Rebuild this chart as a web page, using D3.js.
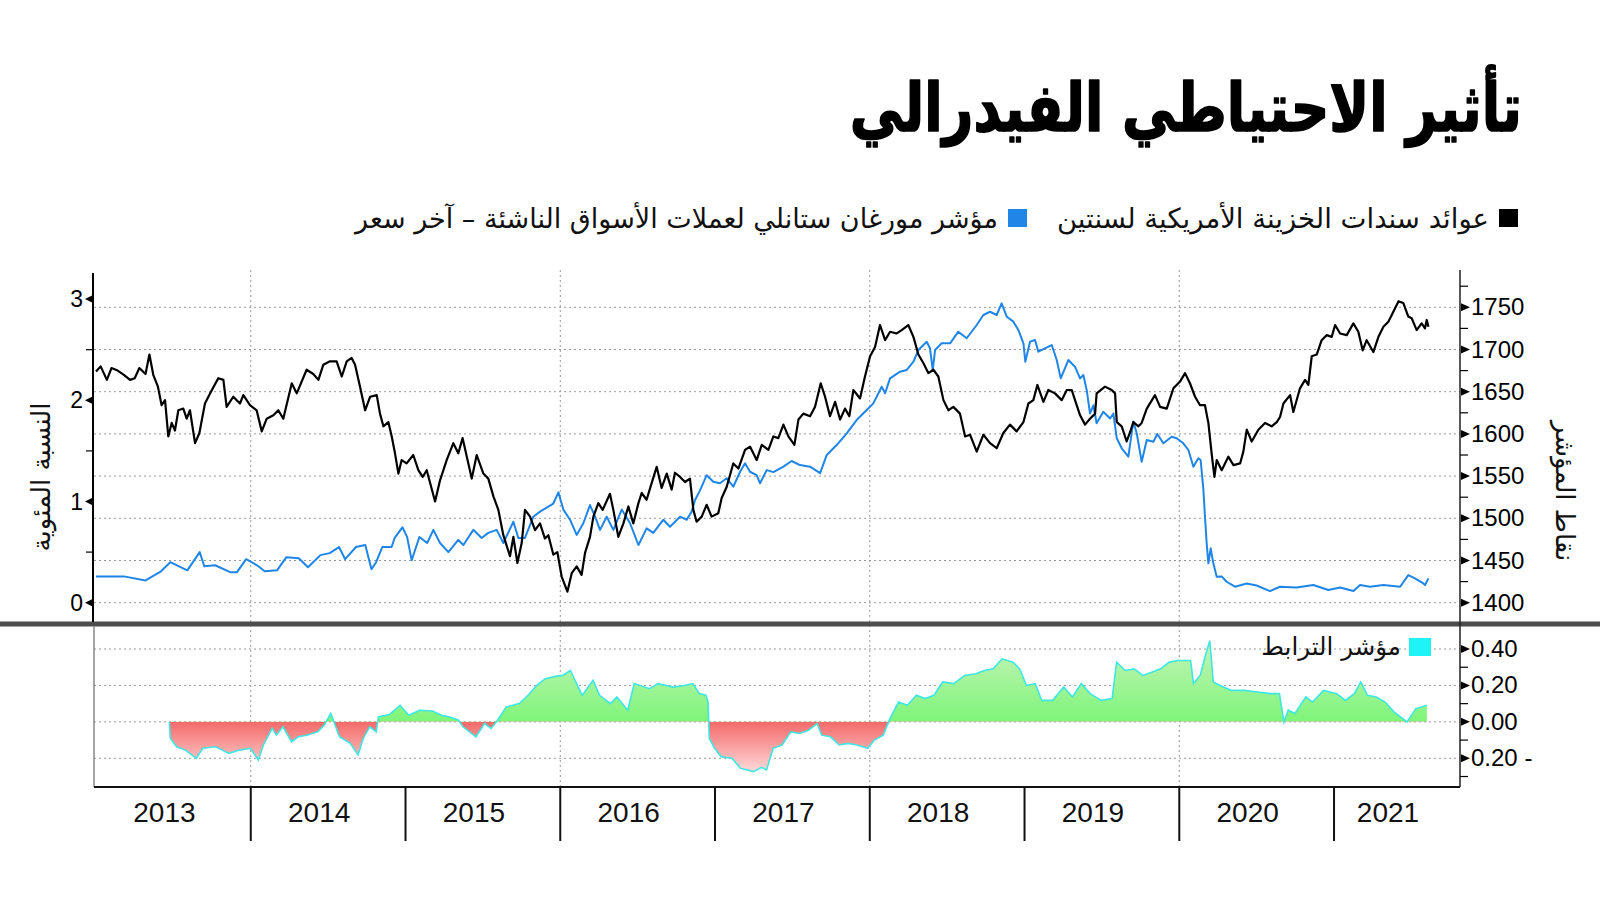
<!DOCTYPE html>
<html><head><meta charset="utf-8">
<script src="https://cdn.jsdelivr.net/npm/d3@7"></script>
<style>body{margin:0;background:#fff}svg{display:block}</style>
</head><body><svg id="c" width="1600" height="900"></svg>
<script>
// ---------- texts ----------
const titleText = "تأثير الاحتياطي الفيدرالي";
const legendLabels = ["عوائد سندات الخزينة الأمريكية لسنتين", "مؤشر مورغان ستانلي لعملات الأسواق الناشئة – آخر سعر"];
const corrLabel = "مؤشر الترابط";
const leftAxisTitle = "النسبة المئوية";
const rightAxisTitle = "نقاط المؤشر";

// ---------- ticks ----------
const years = [2013, 2014, 2015, 2016, 2017, 2018, 2019, 2020, 2021];
const gridYears = [2014, 2016, 2018, 2020];
const leftTicks = [0, 1, 2, 3];
const leftMinor = [0.5, 1.5, 2.5];
const rightTicks = [1400, 1450, 1500, 1550, 1600, 1650, 1700, 1750];
const rightMinor = [1425, 1475, 1525, 1575, 1625, 1675, 1725, 1775];
const corrTicks = [0.4, 0.2, 0, -0.2];
const corrTickLabels = ["0.40", "0.20", "0.00", "0.20 -"];
const corrMinor = [0.3, 0.1, -0.1, -0.3];

// ---------- series: EM currency index (black, right axis) ----------
const indexYears = [2013.00,2013.03,2013.07,2013.10,2013.14,2013.18,2013.22,2013.25,2013.28,2013.32,2013.345,2013.37,2013.40,2013.424,2013.446,2013.467,2013.489,2013.51,2013.532,2013.564,2013.586,2013.607,2013.64,2013.668,2013.704,2013.737,2013.79,2013.823,2013.844,2013.887,2013.93,2013.952,2013.995,2014.038,2014.071,2014.103,2014.146,2014.178,2014.21,2014.265,2014.297,2014.361,2014.404,2014.437,2014.469,2014.512,2014.555,2014.588,2014.62,2014.652,2014.674,2014.706,2014.739,2014.771,2014.814,2014.835,2014.857,2014.889,2014.911,2014.932,2014.954,2014.975,2015.007,2015.05,2015.083,2015.111,2015.137,
2015.191,2015.223,2015.266,2015.309,2015.341,2015.369,2015.406,2015.428,2015.46,2015.503,2015.535,2015.568,2015.60,2015.632,2015.675,2015.697,2015.723,2015.751,2015.772,2015.805,2015.837,2015.869,2015.901,2015.923,2015.955,2015.981,2016.009,2016.046,2016.074,2016.106,2016.138,2016.16,2016.192,2016.214,2016.246,2016.274,2016.321,2016.343,2016.375,2016.408,2016.44,2016.472,2016.505,2016.526,2016.558,2016.591,2016.623,2016.655,2016.688,2016.72,2016.741,2016.774,2016.806,2016.838,2016.86,2016.881,2016.914,2016.946,2016.978,2017.021,2017.043,2017.075,2017.118,2017.151,2017.194,2017.226,
2017.269,2017.302,2017.345,2017.377,2017.409,2017.442,2017.474,2017.513,2017.539,2017.571,2017.614,2017.646,2017.683,2017.711,2017.743,2017.776,2017.808,2017.84,2017.868,2017.894,2017.937,2017.969,2018.002,2018.034,2018.066,2018.099,2018.131,2018.174,2018.206,2018.249,2018.282,2018.314,2018.346,2018.379,2018.411,2018.443,2018.476,2018.508,2018.54,2018.583,2018.616,2018.648,2018.691,2018.734,2018.777,2018.82,2018.863,2018.906,2018.949,2018.993,2019.025,2019.057,2019.083,2019.122,2019.154,2019.197,2019.24,2019.273,2019.305,2019.337,
2019.359,2019.391,2019.423,2019.456,2019.466,2019.52,2019.563,2019.585,2019.596,2019.628,2019.66,2019.682,2019.703,2019.736,2019.757,2019.79,2019.843,2019.876,2019.919,2019.962,2020.005,2020.037,2020.069,2020.102,2020.134,2020.166,2020.188,2020.209,2020.227,2020.242,2020.274,2020.317,2020.35,2020.393,2020.414,2020.436,2020.468,2020.511,2020.554,2020.597,2020.63,2020.651,2020.673,2020.716,2020.737,2020.78,2020.813,2020.834,2020.856,2020.888,2020.92,2020.953,2020.985,2021.007,2021.039,2021.082,2021.125,2021.157,2021.185,2021.211,2021.254,2021.287,2021.319,2021.351,2021.373,2021.416,2021.448,2021.48,2021.502,2021.534,2021.566,2021.588,2021.599,2021.61];
const indexValues = [1674,1680,1664,1678,1675,1670,1664,1666,1678,1671,1694,1670,1656,1634,1640,1597,1613,1604,1628,1630,1618,1628,1589,1601,1636,1648,1666,1664,1632,1644,1636,1646,1634,1628,1603,1618,1622,1628,1618,1660,1648,1676,1671,1664,1682,1686,1686,1668,1686,1690,1682,1656,1628,1644,1646,1624,1609,1614,1597,1577,1553,1569,1565,1575,1557,1549,1557,
1520,1545,1569,1589,1577,1595,1565,1547,1575,1553,1547,1526,1510,1480,1455,1478,1447,1471,1510,1502,1486,1494,1476,1480,1457,1460,1431,1413,1435,1443,1433,1459,1478,1502,1518,1510,1529,1510,1478,1494,1514,1494,1518,1530,1522,1542,1561,1536,1553,1534,1554,1549,1543,1547,1510,1496,1502,1516,1502,1506,1524,1537,1565,1559,1581,1585,
1569,1587,1581,1597,1595,1611,1597,1587,1617,1624,1621,1632,1660,1644,1621,1638,1617,1630,1621,1652,1642,1668,1692,1703,1729,1711,1721,1719,1723,1729,1715,1694,1684,1672,1676,1668,1640,1628,1632,1624,1597,1599,1579,1599,1589,1583,1601,1611,1603,1614,1636,1640,1658,1638,1652,1648,1640,1652,1652,1634,
1622,1611,1618,1624,1648,1656,1652,1648,1614,1609,1591,1602,1614,1609,1613,1630,1646,1632,1630,1654,1662,1672,1660,1644,1634,1634,1613,1577,1549,1569,1557,1573,1563,1565,1579,1605,1591,1605,1613,1609,1614,1620,1636,1646,1626,1654,1664,1658,1692,1694,1711,1717,1715,1729,1719,1717,1731,1721,1699,1711,1697,1715,1727,1733,1741,1757,1755,1739,1737,1723,1731,1725,1735,1727];

// ---------- series: 2-year yield (blue, left axis, %) ----------
const yieldYears = [2013.00,2013.18,2013.32,2013.42,2013.48,2013.59,2013.67,2013.70,2013.77,2013.87,2013.91,2013.97,2014.04,2014.09,2014.17,2014.23,2014.31,2014.37,2014.45,2014.51,2014.57,2014.61,2014.68,2014.74,2014.78,2014.81,2014.85,2014.91,2014.93,2014.98,2015.01,2015.04,2015.09,2015.14,
2015.18,2015.223,2015.277,2015.341,2015.374,2015.438,2015.492,2015.535,2015.589,2015.632,2015.697,2015.729,2015.772,2015.826,2015.869,2015.923,2015.955,2015.988,2016.02,2016.063,2016.106,2016.149,2016.192,2016.225,2016.257,2016.30,2016.343,2016.397,2016.451,2016.505,2016.558,2016.601,2016.666,2016.709,2016.774,2016.817,2016.849,2016.871,2016.903,2016.946,2016.989,2017.032,2017.075,2017.118,2017.162,2017.194,2017.226,2017.269,
2017.291,2017.334,2017.377,2017.442,2017.495,2017.549,2017.614,2017.679,2017.722,2017.786,2017.851,2017.915,2017.98,2018.023,2018.077,2018.099,2018.131,2018.196,2018.239,2018.282,2018.314,2018.368,2018.389,2018.407,2018.422,2018.465,2018.519,2018.572,2018.626,2018.691,2018.734,2018.777,2018.82,2018.852,2018.885,2018.928,2018.96,2018.993,2019.005,2019.036,2019.068,2019.089,2019.132,2019.176,2019.208,2019.234,2019.283,2019.326,
2019.359,2019.38,2019.402,2019.423,2019.445,2019.466,2019.509,2019.553,2019.574,2019.596,2019.628,2019.671,2019.703,2019.725,2019.757,2019.79,2019.833,2019.858,2019.897,2019.951,2019.983,2020.026,2020.059,2020.091,2020.123,2020.138,2020.156,2020.166,2020.177,2020.188,2020.203,2020.22,2020.242,2020.274,2020.306,2020.36,2020.436,2020.50,2020.586,2020.651,2020.759,2020.866,2020.963,2021.039,2021.125,2021.168,2021.233,2021.319,2021.427,2021.48,2021.523,2021.577,2021.588,2021.61];
const yieldValues = [0.26,0.26,0.22,0.31,0.40,0.32,0.50,0.36,0.37,0.30,0.30,0.43,0.37,0.31,0.32,0.45,0.44,0.35,0.47,0.49,0.55,0.43,0.55,0.57,0.33,0.40,0.55,0.55,0.64,0.745,0.65,0.42,0.65,0.59,
0.72,0.59,0.50,0.62,0.57,0.72,0.64,0.69,0.72,0.59,0.80,0.64,0.64,0.85,0.90,0.95,0.98,1.09,0.92,0.82,0.67,0.785,0.965,0.85,0.72,0.85,0.72,0.92,0.785,0.57,0.735,0.69,0.82,0.75,0.85,0.82,0.90,1.015,1.11,1.26,1.195,1.18,1.23,1.146,1.294,1.377,1.294,1.26,
1.18,1.31,1.29,1.344,1.40,1.36,1.344,1.28,1.46,1.558,1.674,1.805,1.904,1.97,2.134,2.07,2.217,2.283,2.30,2.381,2.497,2.579,2.514,2.30,2.497,2.563,2.563,2.678,2.613,2.744,2.843,2.875,2.843,2.958,2.826,2.777,2.695,2.563,2.381,2.58,2.596,2.48,2.514,2.546,2.398,2.217,2.398,2.332,
2.217,2.25,2.10,1.87,1.95,1.773,1.887,1.82,1.87,1.625,1.526,1.443,1.79,1.674,1.393,1.608,1.59,1.667,1.575,1.64,1.625,1.575,1.509,1.344,1.427,1.41,1.114,0.85,0.587,0.389,0.537,0.389,0.257,0.26,0.207,0.158,0.19,0.17,0.115,0.158,0.15,0.175,0.125,0.15,0.115,0.175,0.158,0.175,0.158,0.273,0.24,0.19,0.175,0.24];

// ---------- series: correlation index (lower panel) ----------
const corrYears = [2013.474,2013.48,2013.521,2013.578,2013.648,2013.69,2013.774,2013.858,2013.928,2013.998,2014.049,2014.082,2014.138,2014.166,2014.208,2014.264,2014.307,2014.362,2014.433,2014.475,2014.517,2014.545,2014.573,2014.643,2014.693,2014.727,2014.769,2014.811,2014.825,2014.895,2014.965,2015.021,2015.091,2015.175,2015.231,2015.287,2015.343,2015.371,2015.455,2015.511,2015.553,2015.595,2015.651,2015.735,2015.792,2015.848,2015.903,2015.974,2016.016,2016.066,2016.10,2016.142,2016.212,2016.254,2016.324,2016.366,2016.436,2016.478,2016.576,2016.632,2016.731,2016.80,2016.857,2016.899,2016.941,2016.955,2016.963,2016.997,2017.039,2017.109,2017.165,2017.249,2017.30,2017.333,2017.376,2017.433,2017.49,2017.547,2017.604,2017.66,2017.689,2017.746,2017.803,2017.86,2017.916,2017.987,2018.03,2018.087,2018.13,2018.186,2018.243,2018.301,2018.357,2018.415,2018.471,2018.542,2018.613,2018.685,2018.741,2018.798,2018.855,2018.926,2018.969,2019.012,2019.069,2019.111,2019.182,2019.253,2019.31,2019.367,2019.424,2019.495,2019.566,2019.595,2019.651,2019.708,2019.765,2019.822,2019.879,2019.936,2019.993,2020.073,2020.092,2020.135,2020.169,2020.197,2020.22,2020.263,2020.334,2020.42,2020.505,2020.59,2020.647,2020.676,2020.704,2020.747,2020.818,2020.861,2020.932,2021.017,2021.074,2021.131,2021.173,2021.216,2021.273,2021.33,2021.387,2021.472,2021.529,2021.60];
const corrValues = [0,-0.09,-0.137,-0.155,-0.20,-0.145,-0.137,-0.173,-0.155,-0.145,-0.209,-0.127,-0.036,-0.073,-0.027,-0.109,-0.082,-0.073,-0.055,-0.018,0.046,-0.018,-0.082,-0.118,-0.182,-0.091,-0.027,-0.055,0.027,0.04,0.091,0.036,0.064,0.06,0.036,0.027,0.009,-0.027,-0.082,-0.009,-0.036,0.009,0.082,0.10,0.146,0.20,0.237,0.251,0.255,0.282,0.219,0.146,0.228,0.146,0.10,0.137,0.064,0.21,0.182,0.21,0.191,0.20,0.21,0.155,0.146,0.11,-0.091,-0.145,-0.191,-0.20,-0.255,-0.273,-0.25,-0.264,-0.145,-0.127,-0.055,-0.064,-0.046,-0.009,-0.073,-0.082,-0.127,-0.118,-0.127,-0.145,-0.10,-0.073,0.018,0.109,0.091,0.146,0.128,0.146,0.219,0.21,0.255,0.264,0.282,0.291,0.346,0.328,0.291,0.20,0.21,0.118,0.118,0.191,0.137,0.21,0.155,0.118,0.128,0.328,0.282,0.291,0.255,0.273,0.291,0.328,0.337,0.337,0.21,0.255,0.364,0.446,0.219,0.20,0.173,0.173,0.164,0.155,0.155,0.0,0.064,0.046,0.137,0.109,0.173,0.155,0.118,0.155,0.219,0.146,0.137,0.109,0.055,0.0,0.073,0.091];

// ---------- drawing ----------
const svg = d3.select("#c");
const AR = "'DejaVu Sans', sans-serif";
const NUM = "'Liberation Sans', Arial, sans-serif";

const x = d3.scaleLinear().domain([2012.987, 2021.814]).range([94, 1460]);
const yL = d3.scaleLinear().domain([0, 3]).range([602.7, 299.1]);
const yR = d3.scaleLinear().domain([1400, 1750]).range([602.7, 307.3]);
const yC = d3.scaleLinear().domain([-0.2, 0.4]).range([758.3, 649]);

const topY = 270, sepY = 624, botY = 787;
const xL = x.range()[0], xR = x.range()[1];

// gradients
const defs = svg.append("defs");
const gG = defs.append("linearGradient").attr("id","gG").attr("gradientUnits","userSpaceOnUse")
  .attr("x1",0).attr("x2",0).attr("y1",yC(0.45)).attr("y2",yC(0));
gG.append("stop").attr("offset",0).attr("stop-color","#c6f3b8");
gG.append("stop").attr("offset",1).attr("stop-color","#7ef57a");
const gR = defs.append("linearGradient").attr("id","gR").attr("gradientUnits","userSpaceOnUse")
  .attr("x1",0).attr("x2",0).attr("y1",yC(0)).attr("y2",yC(-0.28));
gR.append("stop").attr("offset",0).attr("stop-color","#f46a6a");
gR.append("stop").attr("offset",1).attr("stop-color","#ffdcdc");
defs.append("clipPath").attr("id","cpPos").append("rect")
  .attr("x",xL).attr("y",sepY).attr("width",xR-xL).attr("height",yC(0)-sepY);
defs.append("clipPath").attr("id","cpNeg").append("rect")
  .attr("x",xL).attr("y",yC(0)).attr("width",xR-xL).attr("height",botY-yC(0));

// title
svg.append("text").attr("transform","translate(1522,131) scale(0.865,1.08)").attr("text-anchor","end")
  .attr("font-family",AR).attr("font-weight","bold").attr("font-size",62).attr("fill","#000")
  .attr("stroke","#000").attr("stroke-width",1.6).attr("stroke-linejoin","round").text(titleText);

// legend
svg.append("rect").attr("x",1499).attr("y",209).attr("width",19).attr("height",18).attr("fill","#000");
svg.append("text").attr("x",1489).attr("y",228).attr("text-anchor","end").attr("font-family",AR)
  .attr("font-size",27.5).attr("fill","#111").text(legendLabels[0]);
svg.append("rect").attr("x",1008).attr("y",209).attr("width",19).attr("height",18).attr("fill","#1f86e8");
svg.append("text").attr("x",998).attr("y",228).attr("text-anchor","end").attr("font-family",AR)
  .attr("font-size",27).attr("fill","#111").text(legendLabels[1]);

// gridlines
const dash = "2,3";
svg.append("g").selectAll("line").data(rightTicks).join("line")
  .attr("x1",xL).attr("x2",xR).attr("y1",d=>yR(d)).attr("y2",d=>yR(d))
  .attr("stroke","#999").attr("stroke-width",1).attr("stroke-dasharray",dash);
svg.append("g").selectAll("line").data(corrTicks).join("line")
  .attr("x1",xL).attr("x2",xR).attr("y1",d=>yC(d)).attr("y2",d=>yC(d))
  .attr("stroke","#999").attr("stroke-width",1).attr("stroke-dasharray",dash);
svg.append("g").selectAll("line").data(gridYears).join("line")
  .attr("x1",d=>x(d)).attr("x2",d=>x(d)).attr("y1",topY).attr("y2",botY)
  .attr("stroke","#999").attr("stroke-width",1).attr("stroke-dasharray",dash);

// correlation
const corr = corrYears.map((t,i)=>[t,corrValues[i]]);
const area = d3.area().x(d=>x(d[0])).y0(yC(0)).y1(d=>yC(d[1]));
svg.append("path").datum(corr).attr("d",area).attr("fill","url(#gG)").attr("clip-path","url(#cpPos)");
svg.append("path").datum(corr).attr("d",area).attr("fill","url(#gR)").attr("clip-path","url(#cpNeg)");
svg.append("path").datum(corr).attr("d",d3.line().x(d=>x(d[0])).y(d=>yC(d[1])))
  .attr("fill","none").attr("stroke","#3fe6e2").attr("stroke-width",1.6);

// lines
const yieldData = yieldYears.map((t,i)=>[t,yieldValues[i]]);
const indexData = indexYears.map((t,i)=>[t,indexValues[i]]);
svg.append("path").datum(yieldData).attr("d",d3.line().x(d=>x(d[0])).y(d=>yL(d[1])))
  .attr("fill","none").attr("stroke","#1f86e8").attr("stroke-width",2).attr("stroke-linejoin","round");
svg.append("path").datum(indexData).attr("d",d3.line().x(d=>x(d[0])).y(d=>yR(d[1])))
  .attr("fill","none").attr("stroke","#000").attr("stroke-width",2.2).attr("stroke-linejoin","round");

// separator
svg.append("rect").attr("x",0).attr("y",sepY-2.5).attr("width",1600).attr("height",5).attr("fill","#4d4d4d");

// axes lines
svg.append("line").attr("x1",xL-1).attr("x2",xL-1).attr("y1",topY+3).attr("y2",sepY-2).attr("stroke","#000").attr("stroke-width",2);
svg.append("line").attr("x1",xL).attr("x2",xL).attr("y1",sepY+2).attr("y2",botY).attr("stroke","#888").attr("stroke-width",1.5);
svg.append("line").attr("x1",xR).attr("x2",xR).attr("y1",topY).attr("y2",botY).attr("stroke","#222").attr("stroke-width",1.5);
svg.append("line").attr("x1",xL).attr("x2",xR).attr("y1",botY).attr("y2",botY).attr("stroke","#111").attr("stroke-width",2);

// left axis ticks
const gl = svg.append("g");
gl.selectAll("path").data(leftTicks).join("path")
  .attr("d",d=>`M${xL-1},${yL(d)-4}L${xL-9},${yL(d)}L${xL-1},${yL(d)+4}Z`).attr("fill","#000");
gl.selectAll("line").data(leftMinor).join("line")
  .attr("x1",xL-8).attr("x2",xL-1).attr("y1",d=>yL(d)).attr("y2",d=>yL(d)).attr("stroke","#000").attr("stroke-width",1.2);
gl.selectAll("text").data(leftTicks).join("text")
  .attr("x",xL-11).attr("y",d=>yL(d)+8).attr("text-anchor","end").attr("font-family",NUM)
  .attr("font-size",23).attr("fill","#000").text(d=>d);

// right axis ticks
const gr = svg.append("g");
gr.selectAll("path").data(rightTicks).join("path")
  .attr("d",d=>`M${xR+1},${yR(d)-4}L${xR+10},${yR(d)}L${xR+1},${yR(d)+4}Z`).attr("fill","#000");
gr.selectAll("line").data(rightMinor).join("line")
  .attr("x1",xR).attr("x2",xR+8).attr("y1",d=>yR(d)).attr("y2",d=>yR(d)).attr("stroke","#000").attr("stroke-width",1.2);
gr.selectAll("text").data(rightTicks).join("text")
  .attr("x",xR+11).attr("y",d=>yR(d)+8).attr("text-anchor","start").attr("font-family",NUM)
  .attr("font-size",24).attr("fill","#000").text(d=>d);

// correlation axis ticks
const gc = svg.append("g");
gc.selectAll("path").data(corrTicks).join("path")
  .attr("d",d=>`M${xR+1},${yC(d)-4}L${xR+10},${yC(d)}L${xR+1},${yC(d)+4}Z`).attr("fill","#000");
gc.selectAll("line").data(corrMinor).join("line")
  .attr("x1",xR).attr("x2",xR+8).attr("y1",d=>yC(d)).attr("y2",d=>yC(d)).attr("stroke","#000").attr("stroke-width",1.2);
gc.selectAll("text").data(corrTicks).join("text")
  .attr("x",xR+11).attr("y",d=>yC(d)+8).attr("text-anchor","start").attr("font-family",NUM)
  .attr("font-size",24).attr("fill","#000").text((d,i)=>corrTickLabels[i]);

// x axis: year separators and labels
const gx = svg.append("g");
gx.selectAll("line").data(years.slice(1)).join("line")
  .attr("x1",d=>x(d)).attr("x2",d=>x(d)).attr("y1",botY).attr("y2",841)
  .attr("stroke","#111").attr("stroke-width",2);
gx.selectAll("text").data(years).join("text")
  .attr("x",d=>{ const a = Math.max(x(d), xL), b = Math.min(x(d+1), xR); return (a+b)/2 - 9; })
  .attr("y",822).attr("text-anchor","middle").attr("font-family",NUM)
  .attr("font-size",28).attr("fill","#111").text(d=>d);

// axis titles
svg.append("text").attr("transform","translate(50,477) rotate(-90)").attr("text-anchor","middle")
  .attr("font-family",AR).attr("font-size",26).attr("fill","#111").text(leftAxisTitle);
svg.append("text").attr("transform","translate(1556,491) rotate(90)").attr("text-anchor","middle")
  .attr("font-family",AR).attr("font-size",26).attr("fill","#111").text(rightAxisTitle);

// correlation legend
svg.append("rect").attr("x",1409).attr("y",638).attr("width",22).attr("height",18).attr("fill","#1ef4f8");
svg.append("text").attr("x",1401).attr("y",655).attr("text-anchor","end").attr("font-family",AR)
  .attr("font-size",24.5).attr("fill","#111").text(corrLabel);
</script></body></html>
